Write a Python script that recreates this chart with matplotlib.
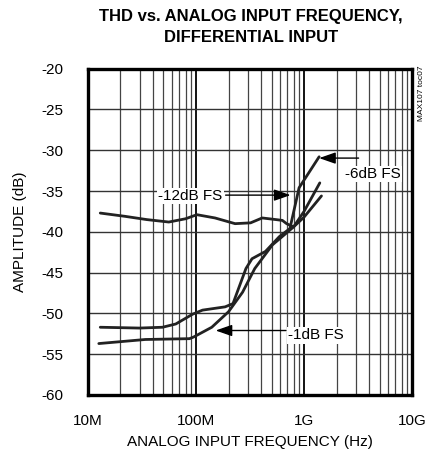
import matplotlib
matplotlib.use("Agg")
import matplotlib.pyplot as plt
import numpy as np

plt.rcParams['font.family'] = ['Liberation Sans Narrow', 'Liberation Sans', 'DejaVu Sans']
plt.rcParams['axes.unicode_minus'] = False

# -12dB FS (flat curve)
f_12 = [1.3e7, 2.2e7, 3.5e7, 5.6e7, 8e7, 1.02e8, 1.5e8, 2.3e8, 3.2e8, 4.1e8, 5.5e8, 6.3e8, 6.9e8, 8e8, 1.0e9, 1.4e9]
thd_12 = [-37.7, -38.1, -38.5, -38.8, -38.4, -37.9, -38.3, -39.0, -38.9, -38.3, -38.5, -38.6, -39.0, -39.4, -37.5, -34.0]

# -6dB FS
f_6 = [1.3e7, 3e7, 4.9e7, 6.5e7, 9.3e7, 1.15e8, 1.86e8, 2.2e8, 2.9e8, 3.3e8, 4.4e8, 5.9e8, 7.4e8, 9e8, 1.38e9]
thd_6 = [-51.7, -51.8, -51.7, -51.3, -50.1, -49.6, -49.2, -48.8, -44.5, -43.3, -42.4, -40.6, -39.6, -34.6, -30.8]

# -1dB FS
f_1 = [1.26e7, 3.4e7, 8.7e7, 9.5e7, 1.4e8, 2.0e8, 2.7e8, 3.5e8, 5.1e8, 6.8e8, 8e8, 1.0e9, 1.45e9]
thd_1 = [-53.7, -53.2, -53.1, -52.9, -51.7, -49.8, -47.4, -44.5, -41.6, -40.2, -39.4, -38.2, -35.6]

fig = plt.figure(figsize=(4.27, 4.55), dpi=100)
ax = fig.add_axes([0.206, 0.132, 0.759, 0.717])

ax.set_xscale('log')
ax.set_xlim(1e7, 1e10)
ax.set_ylim(-60, -20)
ax.set_yticks(np.arange(-60, -19, 5))
ax.set_xticks([1e7, 1e8, 1e9, 1e10])
ax.set_xticklabels(['10M', '100M', '1G', '10G'])
ax.xaxis.set_minor_locator(matplotlib.ticker.LogLocator(base=10, subs=np.arange(2, 10)))
ax.xaxis.set_minor_formatter(matplotlib.ticker.NullFormatter())
ax.tick_params(which='both', length=0, labelsize=11, colors='black')
ax.tick_params(axis='x', pad=14)
ax.tick_params(axis='y', pad=18)

ax.grid(True, which='major', axis='x', color='black', linewidth=1.3)
ax.grid(True, which='major', axis='y', color='#333333', linewidth=1.0)
ax.grid(True, which='minor', axis='x', color='#444444', linewidth=0.9)
for s in ax.spines.values():
    s.set_linewidth(2.4)

for f, t in [(f_12, thd_12), (f_6, thd_6), (f_1, thd_1)]:
    ax.plot(f, t, color='#222222', linewidth=2.0, solid_capstyle='round', zorder=3)

bbox = dict(facecolor='white', edgecolor='none', pad=1)
arrow = dict(arrowstyle='-|>,head_length=1.0,head_width=0.35', color='black', linewidth=1.0, shrinkA=0, shrinkB=0)

ax.annotate('', xy=(7.5e8, -35.5), xytext=(1.88e8, -35.5), arrowprops=arrow, zorder=4)
ax.text(8.9e7, -35.6, '-12dB FS', fontsize=11, ha='center', va='center', bbox=bbox, zorder=5)

ax.annotate('', xy=(1.38e9, -30.96), xytext=(3.2e9, -30.96), arrowprops=arrow, zorder=4)
ax.text(4.35e9, -32.9, '-6dB FS', fontsize=11, ha='center', va='center', bbox=bbox, zorder=5)

ax.annotate('', xy=(1.52e8, -52.1), xytext=(6.8e8, -52.1), arrowprops=arrow, zorder=4)
ax.text(1.3e9, -52.7, '-1dB FS', fontsize=11, ha='center', va='center', bbox=bbox, zorder=5)

ax.set_xlabel('ANALOG INPUT FREQUENCY (Hz)', fontsize=11, labelpad=5)
ax.set_ylabel('AMPLITUDE (dB)', fontsize=11, labelpad=10)

fig.text(0.587, 0.98, 'THD vs. ANALOG INPUT FREQUENCY,\nDIFFERENTIAL INPUT', fontsize=12,
         fontweight='bold', ha='center', va='top', linespacing=1.45)
fig.text(0.995, 0.855, 'MAX107 toc07', fontsize=6, rotation=90, ha='right', va='top')

fig.savefig('out.png', dpi=100)
